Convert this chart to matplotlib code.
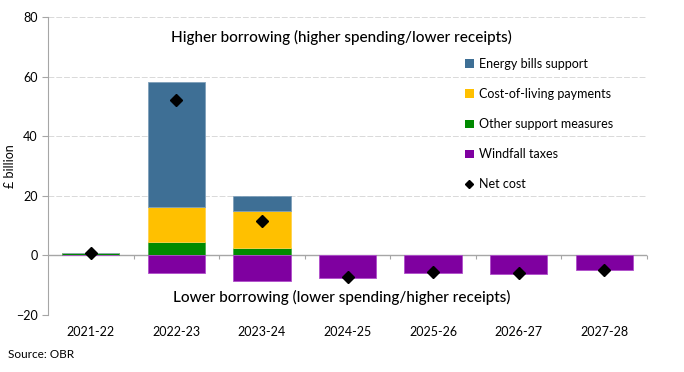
import matplotlib
matplotlib.use("Agg")
import matplotlib.pyplot as plt
import numpy as np
from matplotlib.patches import Patch
from matplotlib.lines import Line2D

plt.rcParams['font.family'] = ['Lato', 'DejaVu Sans']

years = ["2021-22", "2022-23", "2023-24", "2024-25", "2025-26", "2026-27", "2027-28"]
energy = [0.0, 41.7, 5.3, 0.0, 0.0, 0.0, 0.0]
cost_of_living = [0.0, 12.0, 12.4, 0.1, 0.1, 0.1, 0.1]
other_support = [0.9, 4.4, 2.4, 0.0, 0.0, 0.0, 0.0]
windfall = [0.0, -5.8, -8.7, -7.5, -5.9, -6.2, -4.9]
net_cost = [0.9, 52.2, 11.4, -7.1, -5.7, -6.0, -4.8]

c_blue = "#3E6F95"
c_yellow = "#FFC000"
c_green = "#008A00"
c_purple = "#7F00A0"

fig = plt.figure(figsize=(6.84, 3.72), dpi=100)
ax = fig.add_axes([48/684, 57/372, 599/684, 298/372])

x = np.arange(len(years))
w = 0.67
other = np.array(other_support)
col = np.array(cost_of_living)
en = np.array(energy)
ax.bar(x, other, w, color=c_green, edgecolor="#4CAD4C", linewidth=0.6, zorder=3)
ax.bar(x, col, w, bottom=other, color=c_yellow, edgecolor="#FFD34D", linewidth=0.6, zorder=3)
ax.bar(x, en, w, bottom=other + col, color=c_blue, edgecolor="#7FA0BA", linewidth=0.6, zorder=3)
ax.bar(x, windfall, w, color=c_purple, edgecolor="#B04DCB", linewidth=0.6, zorder=3)
ax.plot(x, net_cost, linestyle="none", marker="D", markersize=6.5, color="black", zorder=5)

ax.set_xlim(-0.5, 6.5)
ax.set_ylim(-20, 80)
ax.set_yticks([-20, 0, 20, 40, 60, 80])
ax.yaxis.grid(True, color="#D9D9D9", linestyle=(0, (6, 2)), linewidth=0.7, zorder=0)
ax.axhline(0, color="#A6A6A6", linewidth=1.0, zorder=2)

for s in ["top", "right", "bottom"]:
    ax.spines[s].set_visible(False)
ax.spines["left"].set_color("#A6A6A6")
ax.tick_params(axis="y", colors="#A6A6A6", labelcolor="black", labelsize=9, length=4, width=0.8)
ax.set_xticks(x)
ax.set_xticklabels(years)
ax.tick_params(axis="x", length=0, labelsize=9, pad=8)

sec = ax.secondary_xaxis(0.2)
sec.set_xticks(np.arange(0.5, 6.6, 1.0))
sec.set_xticklabels([])
sec.spines["bottom"].set_visible(False)
sec.tick_params(axis="x", direction="out", length=3, colors="#A6A6A6", width=0.8)

ax.set_ylabel("£ billion", fontsize=9)
ax.yaxis.set_label_coords(-0.053, 0.5)

ax.text(0.49, 0.955, "Higher borrowing (higher spending/lower receipts)", transform=ax.transAxes,
        ha="center", va="top", fontsize=11, fontweight="medium")
ax.text(0.49, 0.035, "Lower borrowing (lower spending/higher receipts)", transform=ax.transAxes,
        ha="center", va="bottom", fontsize=11, fontweight="medium")

handles = [
    Patch(facecolor=c_blue, label="Energy bills support"),
    Patch(facecolor=c_yellow, label="Cost-of-living payments"),
    Patch(facecolor=c_green, label="Other support measures"),
    Patch(facecolor=c_purple, label="Windfall taxes"),
    Line2D([], [], linestyle="none", marker="D", markersize=4.5, color="black", label="Net cost"),
]
ax.legend(handles=handles, loc="upper left", bbox_to_anchor=(460/684, 319/372), bbox_transform=fig.transFigure,
          frameon=False, fontsize=9, handlelength=0.7, handleheight=0.7, handletextpad=0.4,
          labelspacing=1.45, borderaxespad=0)

fig.text(8/684, 1 - 355/372, "Source: OBR", fontsize=8.5, ha="left", va="center")

fig.savefig("out.png", dpi=100, facecolor="white")
